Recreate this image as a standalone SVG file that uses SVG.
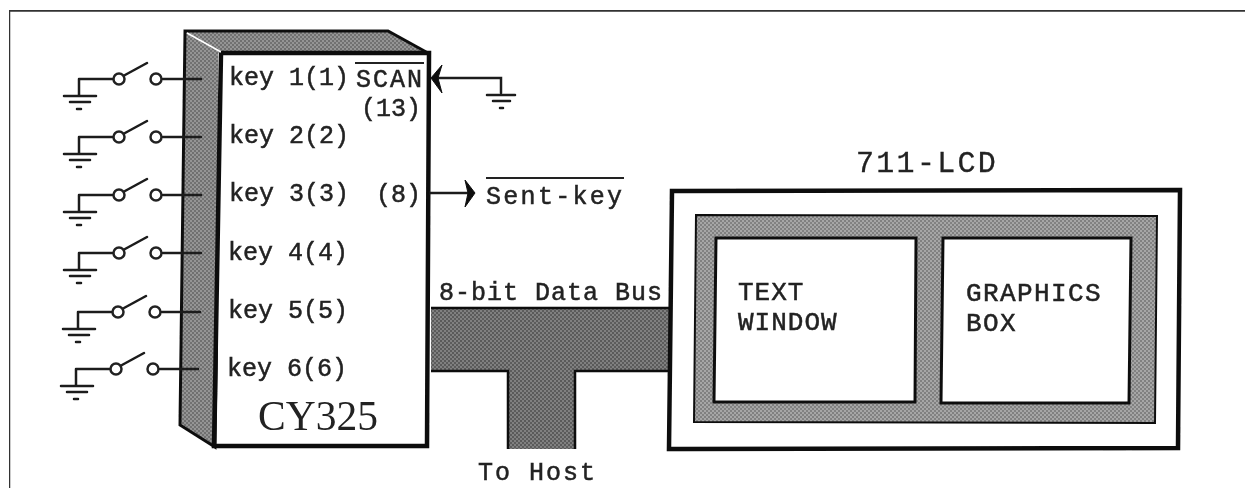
<svg xmlns="http://www.w3.org/2000/svg" width="1245" height="488" viewBox="0 0 1245 488">
<style>
.m{font-family:"Liberation Mono","Courier New",monospace;fill:#222;stroke:#222;stroke-width:.5}
.k{font-size:25px}
.s{font-size:26px}
.w{fill:none;stroke:#1a1a1a;stroke-width:2.5;stroke-linecap:round}
.t{fill:none;stroke:#111;stroke-width:4.5;stroke-linejoin:miter}
.c{fill:#fff;stroke:#222;stroke-width:2.5}
</style>
<defs>
<filter id="soft" x="0" y="0" width="100%" height="100%"><feGaussianBlur stdDeviation="0.45"/></filter>
<pattern id="mid" width="4" height="4" patternUnits="userSpaceOnUse">
<rect width="4" height="4" fill="#959595"/>
<rect width="2" height="2" fill="#707070"/>
<rect x="2" y="2" width="2" height="2" fill="#727272"/>
</pattern>
<pattern id="dark" width="4" height="4" patternUnits="userSpaceOnUse">
<rect width="4" height="4" fill="#808080"/>
<rect width="2" height="2" fill="#5a5a5a"/>
<rect x="2" y="2" width="2" height="2" fill="#5c5c5c"/>
</pattern>
<pattern id="light" width="4" height="4" patternUnits="userSpaceOnUse">
<rect width="4" height="4" fill="#a6a6a6"/>
<rect width="2" height="2" fill="#808080"/>
<rect x="2" y="2" width="2" height="2" fill="#828282"/>
</pattern>
<g id="sw">
<path class="w" d="M0 0V16M-15 17H17M-9 23H11M-2 30H2M0 0H34M46-4L68-16M84 0H122"/>
<circle class="c" cx="40" cy="0" r="5.5"/>
<circle class="c" cx="77" cy="0" r="5.5"/>
</g>
</defs>
<rect width="1245" height="488" fill="#fff"/>
<g filter="url(#soft)">
<path d="M9 488V10.500H1245" fill="none" stroke="#333" stroke-width="2.500"/>

<g id="cy325">
<path fill="url(#mid)" stroke="#111" stroke-width="3" d="M185 31H388L428 53H221L215 447L180 425Z"/>
<path d="M187 33L221 52" stroke="#fff" stroke-width="1.500"/>
<rect x="218" y="53" width="211" height="393" fill="#fff" stroke="none"/>
<path class="t" d="M221 53H429L427 446H214L221 53"/>
<g class="m k">
<text x="229" y="85">key 1(1)</text>
<text x="229" y="143">key 2(2)</text>
<text x="229" y="201">key 3(3)</text>
<text x="228" y="260">key 4(4)</text>
<text x="228" y="318">key 5(5)</text>
<text x="227" y="376">key 6(6)</text>
<text x="376" y="202">(8)</text>
<text x="356" y="87" letter-spacing="2">SCAN</text>
<text x="361" y="116">(13)</text>
</g>
<path d="M355 63H424" stroke="#222" stroke-width="2"/>
<text x="258" y="430" font-family="Liberation Serif,serif" font-size="41.500" fill="#222">CY325</text>
</g>

<g id="connectors">
<use href="#sw" x="79" y="79"/>
<use href="#sw" x="79" y="137"/>
<use href="#sw" x="79" y="195"/>
<use href="#sw" x="79" y="253"/>
<use href="#sw" x="78" y="312"/>
<use href="#sw" x="76" y="369"/>
<path class="w" d="M434 78H501V93M487 95H515M493 101H510M500 108H503"/>
<path d="M431 78L442 65L438 78L442 93Z" fill="#111" stroke="#111"/>
<path class="w" d="M430 193H470"/>
<path d="M475 193L465 180L468 193L465 207Z" fill="#111" stroke="#111"/>
</g>

<g id="sent-key">
<text class="m k" x="486" y="204" letter-spacing="2.300">Sent-key</text>
<path d="M486 178H624" stroke="#222" stroke-width="2"/>
</g>

<g id="bus">
<path d="M431 308H669V371H575V449H508V371H431Z" fill="url(#dark)"/>
<path d="M431 308H669M431 371H508V449M575 449V371H669" fill="none" stroke="#111" stroke-width="2.500"/>
<text class="m k" x="439" y="300" letter-spacing="1">8-bit Data Bus</text>
<text class="m k" x="478" y="480" letter-spacing="2">To Host</text>
</g>

<g id="lcd">
<text class="m" x="856" y="172" font-size="30" letter-spacing="2.300" style="stroke-width:.3">711-LCD</text>
<path d="M672 191L1180 190L1178 448L669 449Z" fill="#fff" stroke="#111" stroke-width="4.500"/>
<path d="M696 215L1157 216L1155 423L694 422Z" fill="url(#light)" stroke="#111" stroke-width="2"/>
<path id="text-window" d="M716 238H916L915 402H714Z" fill="#fff" stroke="#111" stroke-width="3"/>
<path id="graphics-box" d="M943 238H1131L1129 403H941Z" fill="#fff" stroke="#111" stroke-width="3"/>
<g class="m s">
<text x="738" y="300" letter-spacing="1">TEXT</text>
<text x="738" y="330" letter-spacing="1">WINDOW</text>
<text x="966" y="301" letter-spacing="1.400">GRAPHICS</text>
<text x="966" y="331" letter-spacing="1.400">BOX</text>
</g>
</g>
</g>
</svg>
